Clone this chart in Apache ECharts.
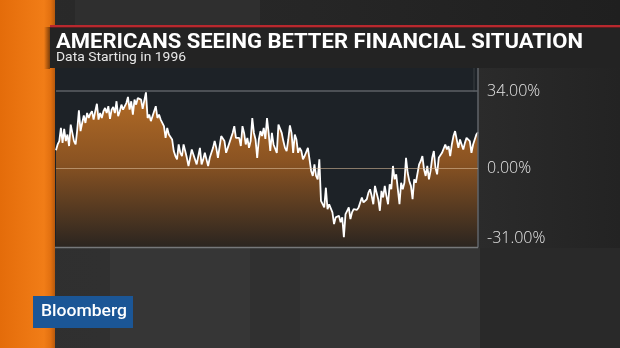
<!DOCTYPE html>
<html>
<head>
<meta charset="utf-8">
<style>
html,body{margin:0;padding:0;background:#2a2a2a;}
#c{width:620px;height:348px;}
</style>
<script src="https://cdn.jsdelivr.net/npm/echarts@6/dist/echarts.min.js"></script>
</head>
<body>
<div id="c"></div>
<script>
// ---- Data (monthly, starting 1996) ----
const titleText = 'AMERICANS SEEING BETTER FINANCIAL SITUATION';
const subtitleText = 'Data Starting in 1996';
const startYear = 1996;
const values = [
  7.9,10.4,11.9,17.7,11.1,17.3,11.9,14.8,9.7,19.2,15.5,11.9,10.4,17.0,25.5,16.3,19.9,23.2,19.9,24.3,
  22.1,24.0,25.1,21.4,25.1,28.4,21.4,24.3,22.1,25.1,26.5,24.3,27.3,21.7,25.8,27.0,24.3,29.5,22.9,25.1,
  28.0,25.8,26.5,28.7,31.4,25.8,29.5,23.6,30.2,28.0,30.9,31.7,30.2,26.1,29.9,33.4,22.1,23.6,20.7,22.9,
  22.1,27.3,22.1,23.6,21.4,22.1,18.5,13.3,17.7,14.8,14.8,12.6,7.5,5.3,3.8,10.4,6.7,5.3,10.4,7.5,
  4.5,0.9,4.5,8.2,6.0,6.7,1.6,5.3,8.9,1.6,3.8,6.7,3.8,0.9,4.5,6.7,8.9,11.9,8.9,4.5,
  4.5,14.1,14.8,11.9,6.7,8.9,11.1,13.3,15.5,18.5,13.3,14.1,13.3,9.7,18.5,15.5,10.4,13.3,8.9,11.9,
  22.1,15.5,12.6,4.5,12.6,16.3,14.1,17.7,12.9,22.1,
  15.5,7.5,15.5,10.4,11.1,6.7,19.2,18.5,15.5,11.9,8.9,7.5,12.6,18.8,15.5,6.7,14.8,12.6,6.7,8.9,
  7.5,3.8,5.3,4.5,8.9,3.8,-1.3,-3.5,1.6,-3.5,-5.0,3.8,-14.5,-15.2,-17.4,-8.7,-18.2,-16.0,-16.7,-19.6,
  -24.8,-21.8,-22.6,-21.1,-24.0,-21.8,-30.6,-20.4,-18.9,-17.4,-22.6,-19.6,-18.2,-17.4,-18.5,-17.4,-16.7,-13.0,-15.2,-16.0,
  -13.8,-10.9,-9.4,-12.3,-16.0,-7.9,-10.9,-13.8,-18.9,-10.1,-13.0,-7.9,-12.3,-16.0,-7.2,-9.4,0.9,-5.0,-2.8,-9.4,
  -16.0,-6.5,-9.4,-6.5,4.5,-2.1,-5.7,-7.9,-13.8,-5.0,-6.5,-5.7,1.6,3.1,5.3,-0.6,-3.5,0.9,-5.0,-1.3,
  4.5,7.5,0.1,-2.8,4.5,5.3,6.7,7.5,10.4,8.2,9.7,5.3,10.4,14.1,16.3,15.5,8.9,12.6,10.4,8.2,
  11.1,13.3,13.8,11.9,6.7,10.4,12.6,14.8,15.8
];
const tickValues = [34, 0, -31];
const tickLabels = ['34.00%', '0.00%', '-31.00%'];

const categories = [];
for (let i = 0; i < values.length; i++) {
  const y = startYear + Math.floor(i / 12), m = (i % 12) + 1;
  categories.push(y + '-' + (m < 10 ? '0' + m : m));
}

function fitScale(text, font, target) {
  const ctx = document.createElement('canvas').getContext('2d');
  ctx.font = font;
  return target / ctx.measureText(text).width;
}
const titleFont = 'bold 20px Roboto';
const subFont = '13px Roboto';
const logoFont = '500 17px Roboto';
const sT = fitScale(titleText, titleFont, 527);
const sS = fitScale(subtitleText, subFont, 130);
const sL = fitScale('Bloomberg', logoFont, 86);

const chart = echarts.init(document.getElementById('c'));
const G = echarts.graphic;
chart.setOption({
  backgroundColor: new G.LinearGradient(0, 0, 1, 0, [
    {offset: 0, color: '#2f2f2f'}, {offset: 0.5, color: '#323232'}, {offset: 1, color: '#262626'}
  ]),
  animation: false,
  grid: {left: 56, right: 142, top: 70, bottom: 101},
  xAxis: {
    type: 'category', data: categories, boundaryGap: false,
    axisLine: {show: false}, axisTick: {show: false}, axisLabel: {show: false}, splitLine: {show: false}
  },
  yAxis: {
    type: 'value', position: 'right', min: -34.9, max: 43.3,
    axisLine: {show: false}, axisTick: {show: false}, splitLine: {show: false},
    axisLabel: {
      customValues: tickValues, margin: 9, color: '#e4e4e4', fontSize: 16,
      fontFamily: 'Open Sans', fontWeight: 300,
      formatter: v => tickLabels[tickValues.indexOf(v)] || ''
    }
  },
  graphic: [
    // top strip
    {type: 'rect', z: -10, shape: {x: 0, y: 0, width: 620, height: 27}, style: {fill: new G.LinearGradient(0,0,1,0,[{offset:0,color:'#2a2a2a'},{offset:0.5,color:'#262626'},{offset:1,color:'#1f1f1f'}])}},
    {type: 'rect', z: -10, shape: {x: 75, y: 0, width: 185, height: 25}, style: {fill: '#2f2f2f'}},
    // right side
    {type: 'rect', z: -10, shape: {x: 478, y: 68, width: 142, height: 180}, style: {fill: new G.LinearGradient(0,0,1,0,[{offset:0,color:'#2b2b2b'},{offset:1,color:'#232323'}])}},
    // lower bands
    {type: 'rect', z: -10, shape: {x: 110, y: 248, width: 140, height: 100}, style: {fill: '#363636'}},
    {type: 'rect', z: -10, shape: {x: 250, y: 248, width: 50, height: 100}, style: {fill: '#303030'}},
    {type: 'rect', z: -10, shape: {x: 300, y: 248, width: 180, height: 100}, style: {fill: '#343434'}},
    {type: 'rect', z: -10, shape: {x: 480, y: 248, width: 140, height: 100}, style: {fill: '#292929'}},
    // chart panel
    {type: 'rect', z: -9, shape: {x: 50, y: 68, width: 428, height: 179}, style: {fill: '#1d2227'}},
    // panel borders
    {type: 'line', z: 5, shape: {x1: 478, y1: 68, x2: 478, y2: 247.5}, style: {stroke: '#60646a', lineWidth: 1.5}},
    {type: 'line', z: 5, shape: {x1: 474, y1: 68, x2: 474, y2: 92}, style: {stroke: '#3a3e43', lineWidth: 1}},
    {type: 'line', z: 5, shape: {x1: 55, y1: 247.5, x2: 478, y2: 247.5}, style: {stroke: '#76787a', lineWidth: 1.5}},
    // orange band
    {type: 'rect', z: 10, shape: {x: 0, y: 0, width: 55, height: 348}, style: {fill: new G.LinearGradient(0,0,1,0,[{offset:0,color:'#e46c0a'},{offset:0.8,color:'#f17d17'},{offset:0.92,color:'#e27010'},{offset:1,color:'#b8590c'}])}},
    // title box shadow + box
    {type: 'rect', z: 11, shape: {x: 44, y: 27, width: 6, height: 42}, style: {fill: new G.LinearGradient(0,0,1,0,[{offset:0,color:'rgba(0,0,0,0)'},{offset:1,color:'rgba(0,0,0,0.45)'}])}},
    {type: 'rect', z: 11, shape: {x: 50, y: 27, width: 570, height: 41}, style: {fill: '#232323'}},
    {type: 'rect', z: 12, shape: {x: 50, y: 25, width: 570, height: 2}, style: {fill: '#b8282e'}},
    {type: 'rect', z: 12, shape: {x: 50, y: 27, width: 570, height: 1}, style: {fill: '#5a1e20'}},
    // title texts
    {type: 'text', z: 13, x: 56, y: 33, scaleX: sT, style: {text: titleText, font: titleFont, fill: '#ffffff', textVerticalAlign: 'top'}},
    {type: 'text', z: 13, x: 56, y: 51, scaleX: sS, style: {text: subtitleText, font: subFont, fill: '#e8e8e8', textVerticalAlign: 'top'}},
    // Bloomberg logo
    {type: 'rect', z: 13, shape: {x: 33, y: 296, width: 100, height: 32}, style: {fill: '#1b5696'}},
    {type: 'text', z: 14, x: 41, y: 312, scaleX: sL, style: {text: 'Bloomberg', font: logoFont, fill: '#ffffff', textVerticalAlign: 'middle'}}
  ],
  series: [{
    type: 'line', data: values, symbol: 'none', z: 3,
    lineStyle: {color: '#ffffff', width: 1.8},
    areaStyle: {
      origin: 'start', opacity: 1,
      color: new G.LinearGradient(0, 0, 0, 1, [
        {offset: 0, color: '#b46c26'}, {offset: 0.45, color: '#8a5322'}, {offset: 1, color: '#2b2520'}
      ])
    },
    markLine: {
      silent: true, symbol: 'none', label: {show: false},
      data: [
        {yAxis: 34, lineStyle: {color: '#5c6166', width: 1.5, type: 'solid'}},
        {yAxis: 0, lineStyle: {color: 'rgba(225,195,160,0.55)', width: 1, type: 'solid'}}
      ]
    }
  }]
});
</script>
</body>
</html>
